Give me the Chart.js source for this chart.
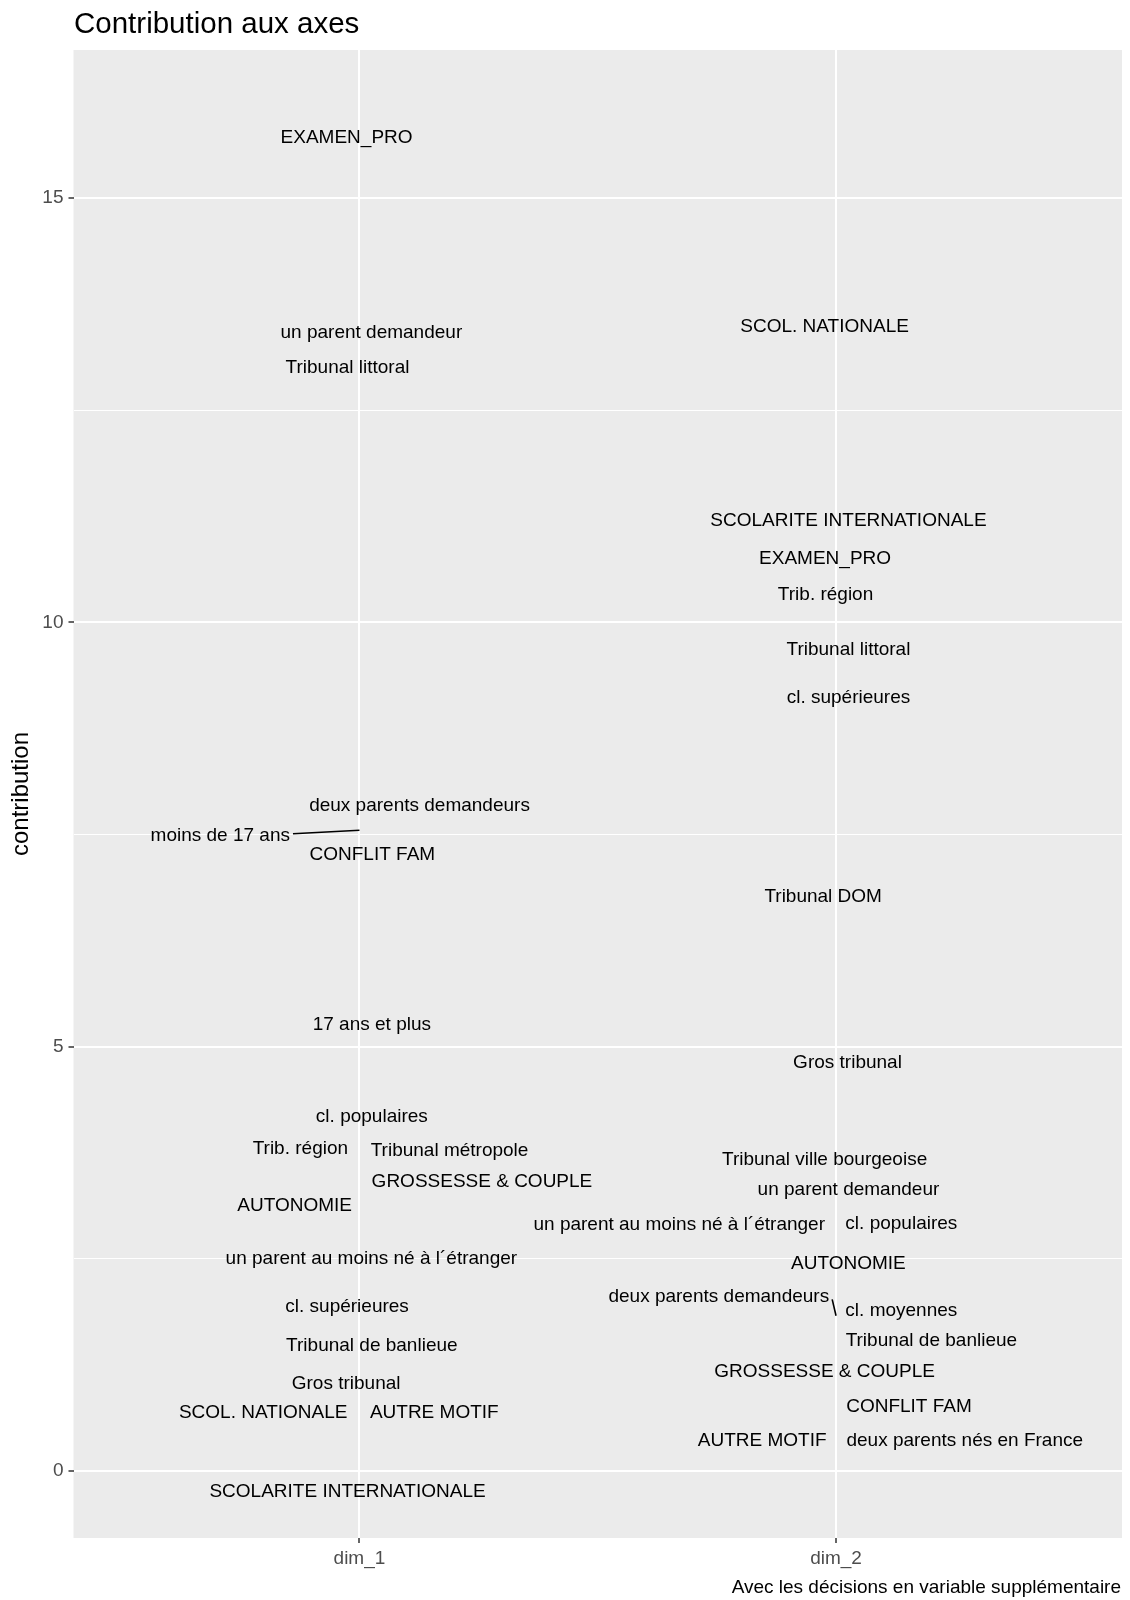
<!DOCTYPE html>
<html>
<head>
<meta charset="utf-8">
<script src="https://cdn.jsdelivr.net/npm/chart.js@4.4.1/dist/chart.umd.min.js"></script>
<style>
	body { margin: 0; background: #ffffff; }
	canvas { display: block; }
</style>
</head>
<body>
<canvas id="contrib-chart" width="1130" height="1600"></canvas>
<script>
const dims = ["dim_1", "dim_2"];
const yTicks = [0, 2.5, 5, 7.5, 10, 12.5, 15];

const dim1Labels = ["EXAMEN_PRO", "un parent demandeur", "Tribunal littoral", "deux parents demandeurs",
	"moins de 17 ans", "CONFLIT FAM", "17 ans et plus", "cl. populaires", "Trib. région",
	"Tribunal métropole", "GROSSESSE & COUPLE", "AUTONOMIE", "un parent au moins né à l´étranger",
	"cl. supérieures", "Tribunal de banlieue", "Gros tribunal", "SCOL. NATIONALE", "AUTRE MOTIF",
	"SCOLARITE INTERNATIONALE"];
const dim1Contrib = [15.73, 13.43, 13.02, 7.86, 7.55, 7.28, 5.28, 4.19, 3.81, 3.79, 3.43, 3.15, 2.52,
	1.95, 1.50, 1.05, 0.70, 0.70, 0.03];

const dim2Labels = ["SCOL. NATIONALE", "SCOLARITE INTERNATIONALE", "EXAMEN_PRO", "Trib. région",
	"Tribunal littoral", "cl. supérieures", "Tribunal DOM", "Gros tribunal", "Tribunal ville bourgeoise",
	"un parent demandeur", "un parent au moins né à l´étranger", "cl. populaires", "AUTONOMIE",
	"deux parents demandeurs", "cl. moyennes", "Tribunal de banlieue", "GROSSESSE & COUPLE",
	"CONFLIT FAM", "AUTRE MOTIF", "deux parents nés en France"];
const dim2Contrib = [13.50, 11.21, 10.77, 10.34, 9.69, 9.13, 6.78, 4.83, 3.69, 3.33, 2.92, 2.93, 2.46,
	1.83, 1.91, 1.55, 1.19, 0.78, 0.38, 0.38];

// ggrepel label shifts (axis units) and which labels keep a segment to their point
const dim1ShiftX = [-0.027, 0.025, -0.025, 0.126, -0.292, 0.027, 0.026, 0.026, -0.124, 0.189, 0.257,
	-0.136, 0.025, -0.026, 0.026, -0.028, -0.202, 0.157, -0.025];
const dim1ShiftY = [0, 0, 0, 0, -0.05, 0, 0, 0, 0, 0, 0, 0, 0, 0, 0, 0, 0, 0, -0.25];
const dim1Segment = [0, 0, 0, 0, 1, 0, 0, 0, 0, 0, 0, 0, 0, 0, 0, 0, 0, 0, 0];
const dim2ShiftX = [-0.024, 0.026, -0.023, -0.022, 0.026, 0.026, -0.027, 0.024, -0.024, 0.026, -0.329,
	0.137, 0.026, -0.246, 0.137, 0.200, -0.024, 0.153, -0.155, 0.270];
const dim2ShiftY = [0, 0, 0, 0, 0, 0, 0, 0, 0, 0, 0, 0, 0, 0.24, 0, 0, 0, 0, 0, 0];
const dim2Segment = [0, 0, 0, 0, 0, 0, 0, 0, 0, 0, 0, 0, 0, 1, 0, 0, 0, 0, 0, 0];

const FONT = "'Liberation Sans', Arial, Helvetica, sans-serif";
const series = [
	{ labels: dim1Labels, values: dim1Contrib, dx: dim1ShiftX, dy: dim1ShiftY, seg: dim1Segment },
	{ labels: dim2Labels, values: dim2Contrib, dx: dim2ShiftX, dy: dim2ShiftY, seg: dim2Segment }
];

const panelBackground = {
	id: "panelBackground",
	beforeDraw(chart)
	{
		const { ctx, chartArea: a } = chart;
		ctx.save();
		ctx.fillStyle = "#EBEBEB";
		ctx.fillRect(a.left, a.top, a.right - a.left, a.bottom - a.top);
		ctx.restore();
	}
};

const repelLabels = {
	id: "repelLabels",
	afterDatasetsDraw(chart)
	{
		const { ctx, scales } = chart;
		ctx.save();
		ctx.font = "19px " + FONT;
		ctx.textAlign = "center";
		ctx.textBaseline = "alphabetic";
		series.forEach((s, di) =>
		{
			const meta = chart.getDatasetMeta(di);
			meta.data.forEach((pt, i) =>
			{
				const lx = scales.x.getPixelForValue(di + 1 + s.dx[i]);
				const ly = scales.y.getPixelForValue(s.values[i] + s.dy[i]);
				ctx.fillStyle = "#000000";
				ctx.fillText(s.labels[i], lx, ly + 6.8);
				if(s.seg[i])
				{
					const w = ctx.measureText(s.labels[i]).width;
					const side = pt.x > lx ? 1 : -1;
					ctx.strokeStyle = "#000000";
					ctx.lineWidth = 1.6;
					ctx.beginPath();
					ctx.moveTo(lx + side * (w / 2 + 3), ly + (pt.y - ly) * 0.2);
					ctx.lineTo(pt.x, pt.y);
					ctx.stroke();
				}
			});
		});
		ctx.restore();
	}
};

const titles = {
	id: "titles",
	afterDraw(chart)
	{
		const ctx = chart.ctx;
		ctx.save();
		ctx.fillStyle = "#000000";
		ctx.textBaseline = "alphabetic";
		ctx.font = "29.5px " + FONT;
		ctx.textAlign = "left";
		ctx.fillText("Contribution aux axes", 74, 33);
		ctx.font = "19px " + FONT;
		ctx.textAlign = "right";
		ctx.fillText("Avec les décisions en variable supplémentaire", chart.chartArea.right - 1, 1593);
		ctx.restore();
	}
};

new Chart(document.getElementById("contrib-chart").getContext("2d"),
{
	type: "scatter",
	data:
	{
		datasets: series.map((s, di) => ({
			label: dims[di],
			data: s.values.map(v => ({ x: di + 1, y: v })),
			pointRadius: 0,
			pointHoverRadius: 0
		}))
	},
	options:
	{
		responsive: false,
		animation: false,
		layout: { padding: { top: 50, right: 8, left: 0, bottom: 0 } },
		plugins:
		{
			legend: { display: false },
			tooltip: { enabled: false },
			title: { display: false }
		},
		scales:
		{
			x:
			{
				type: "linear",
				min: 0.4,
				max: 2.6,
				afterBuildTicks: scale => { scale.ticks = [{ value: 1 }, { value: 2 }]; },
				afterFit: scale => { scale.height = 62; },
				ticks:
				{
					callback: v => dims[Math.round(v) - 1],
					color: "#4D4D4D",
					font: { family: FONT, size: 19 },
					padding: 4,
					maxRotation: 0
				},
				grid:
				{
					color: "#ffffff",
					lineWidth: 2,
					tickColor: "#333333",
					tickLength: 5,
					tickWidth: 1.5
				},
				border: { display: false }
			},
			y:
			{
				min: -0.789,
				max: 16.744,
				afterBuildTicks: scale => { scale.ticks = yTicks.map(v => ({ value: v })); },
				afterFit: scale => { scale.width = 73.5; },
				ticks:
				{
					callback: v => (v % 5 === 0 ? String(v) : ""),
					color: "#4D4D4D",
					font: { family: FONT, size: 19 },
					padding: 5
				},
				grid:
				{
					color: "#ffffff",
					lineWidth: c => (c.tick && c.tick.value % 5 === 0 ? 2 : 1),
					tickColor: c => (c.tick && c.tick.value % 5 === 0 ? "#333333" : "rgba(0,0,0,0)"),
					tickLength: 5,
					tickWidth: 1.5
				},
				border: { display: false },
				title:
				{
					display: true,
					text: "contribution",
					color: "#000000",
					font: { family: FONT, size: 24 },
					padding: { top: 7, bottom: 0 }
				}
			}
		}
	},
	plugins: [panelBackground, repelLabels, titles]
});
</script>
</body>
</html>
